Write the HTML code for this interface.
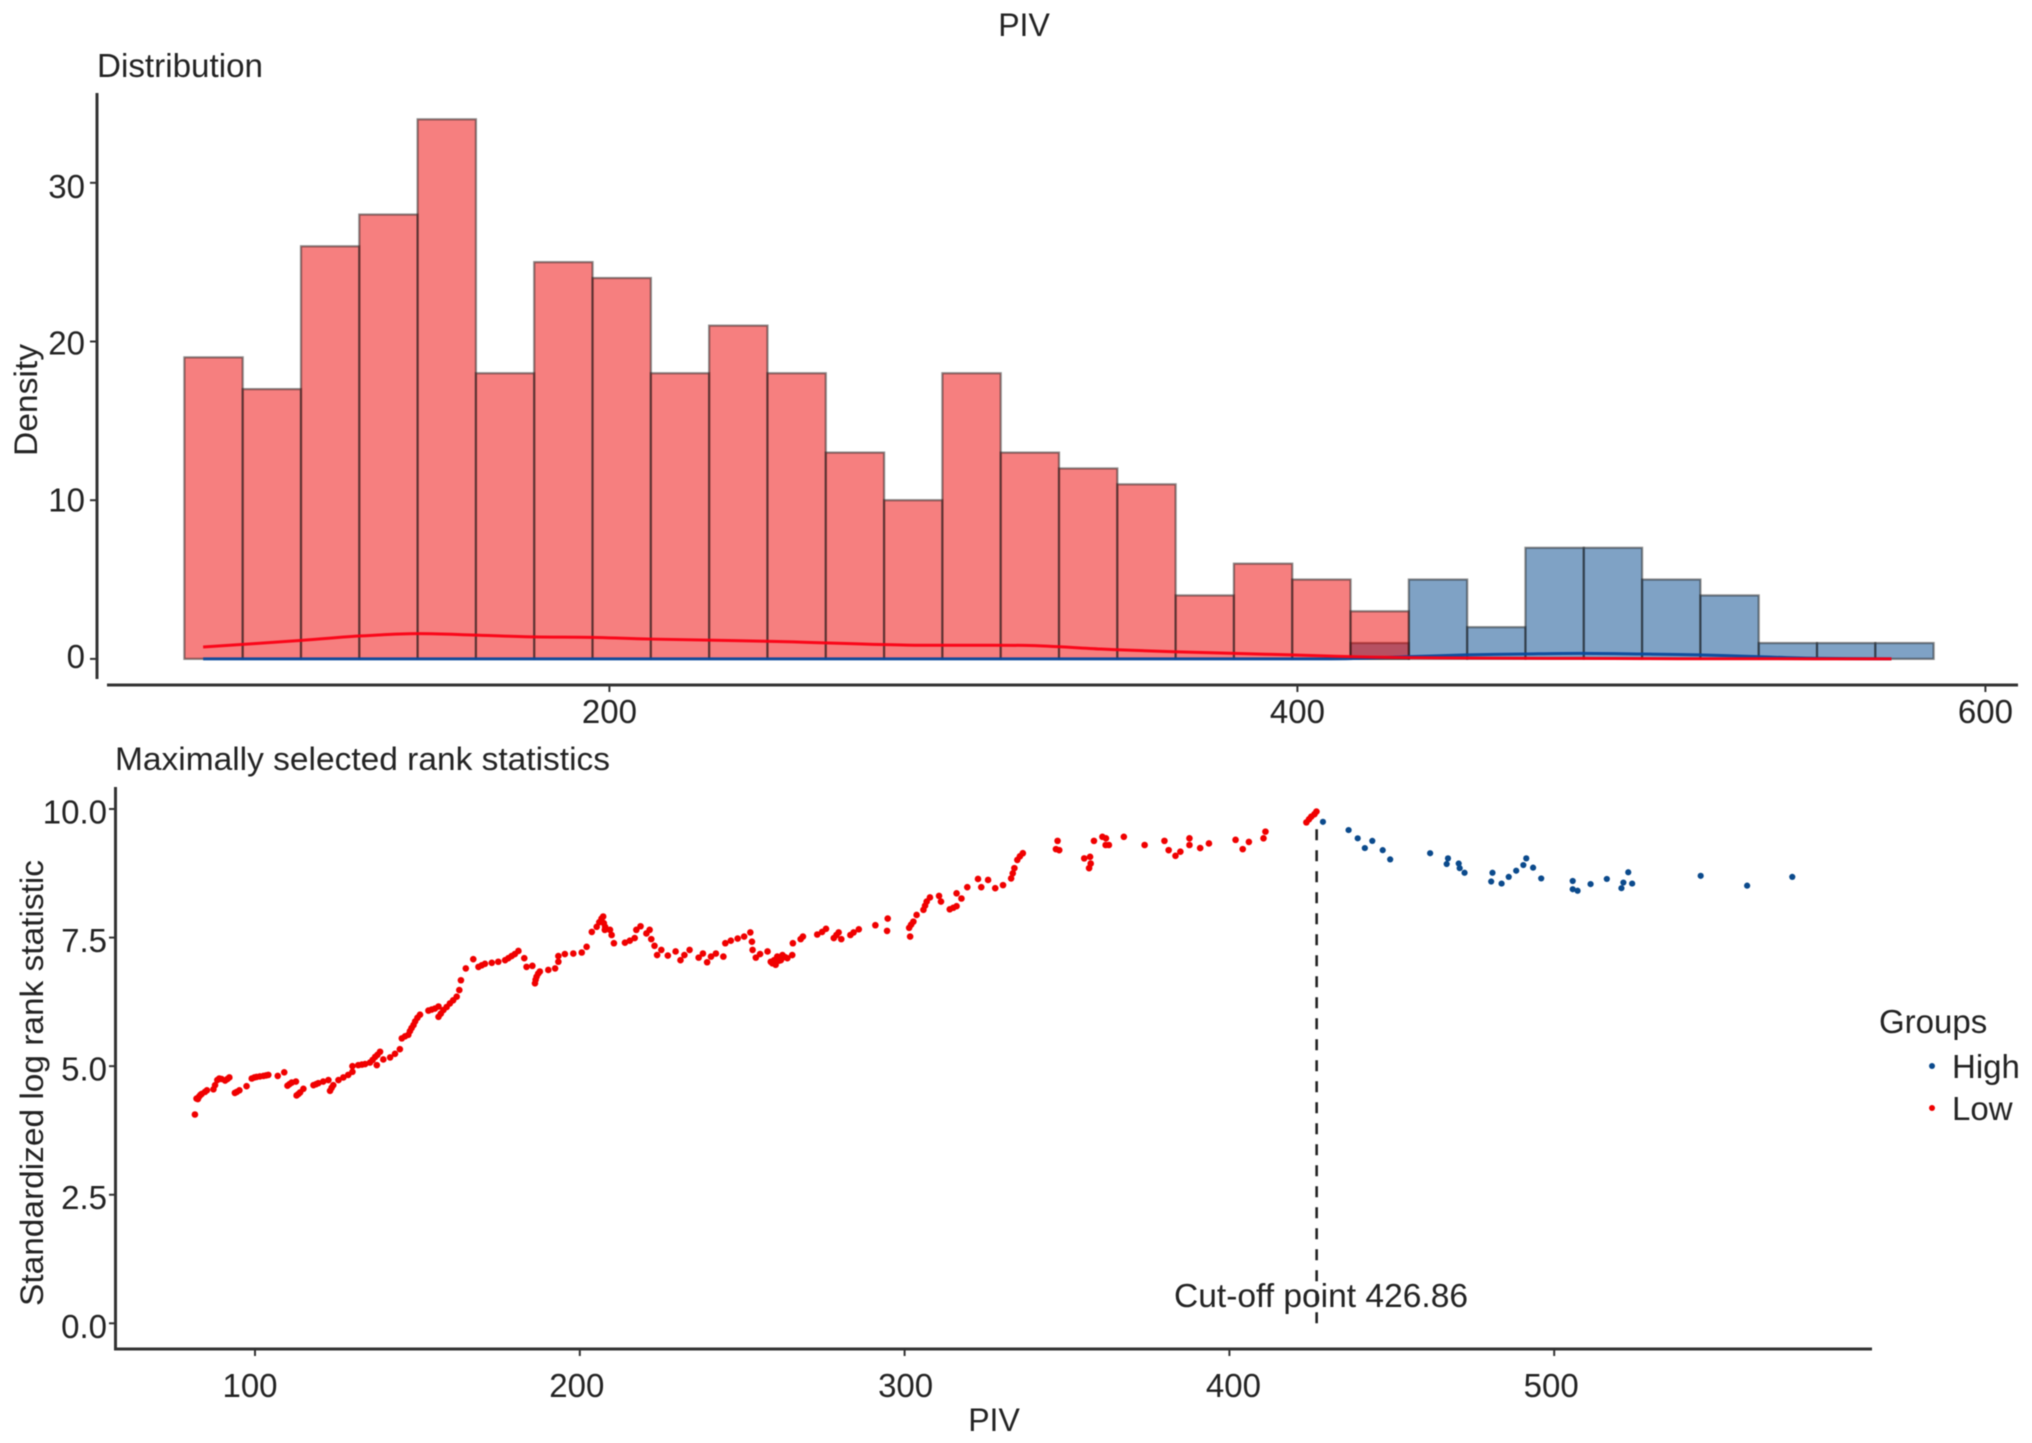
<!DOCTYPE html>
<html lang="en">
<head>
<meta charset="utf-8">
<title>PIV</title>
<style>
html,body{margin:0;padding:0;background:#fff;overflow:hidden;}
svg{display:block;filter:blur(0.6px);}
text{font-family:"Liberation Sans",Arial,sans-serif;fill:#232323;}
</style>
</head>
<body>
<svg id="chart" xmlns="http://www.w3.org/2000/svg" width="2032" height="1443" viewBox="0 0 2032 1443">
  <rect x="0" y="0" width="2032" height="1443" fill="#ffffff"/>
  <text x="1024" y="36" font-size="32" text-anchor="middle">PIV</text>
  <text x="97" y="77" font-size="33" textLength="166" lengthAdjust="spacingAndGlyphs">Distribution</text>
  <text transform="translate(37,400) rotate(-90)" font-size="32" text-anchor="middle" textLength="112" lengthAdjust="spacingAndGlyphs">Density</text>
  <g id="histogram"></g>
  <g id="density-lines"></g>
  <line x1="97" y1="93" x2="97" y2="679" stroke="#333" stroke-width="3"/>
  <line x1="107" y1="685" x2="2018" y2="685" stroke="#333" stroke-width="3"/>
  <g id="top-axes"></g>

  <text x="115" y="770" font-size="32" textLength="495" lengthAdjust="spacingAndGlyphs">Maximally selected rank statistics</text>
  <text transform="translate(43,1083) rotate(-90)" font-size="32" text-anchor="middle" textLength="446" lengthAdjust="spacingAndGlyphs">Standardized log rank statistic</text>
  <g id="scatter"></g>
  <line x1="115.5" y1="787" x2="115.5" y2="1350" stroke="#333" stroke-width="3"/>
  <line x1="114" y1="1349" x2="1872" y2="1349" stroke="#333" stroke-width="3"/>
  <g id="bottom-axes"></g>
  <text x="1174" y="1307" font-size="33" textLength="294" lengthAdjust="spacingAndGlyphs">Cut-off point 426.86</text>
  <text x="994" y="1431" font-size="32" text-anchor="middle">PIV</text>

  <text x="1879" y="1033" font-size="33">Groups</text>
  <circle cx="1932" cy="1066" r="3" fill="#0b4a8c"/>
  <text x="1952" y="1078" font-size="33">High</text>
  <circle cx="1932" cy="1108" r="3" fill="#f00000"/>
  <text x="1952" y="1120" font-size="33">Low</text>
</svg>
<script>
// Histogram data
const binStart = 76.45;
const binWidth = 16.95;
const lowCounts = [19,17,26,28,34,18,25,24,18,21,18,13,10,18,13,12,11,4,6,5,3,0,0,0,0,0,0,0,0,0];
const highCounts = [0,0,0,0,0,0,0,0,0,0,0,0,0,0,0,0,0,0,0,0,1,5,2,7,7,5,4,1,1,1];

// Density curve data
const densityPiv = [81.9,110,127.2,144,161,178,195,212,248.7,286.6,320.5,342.9,364.1,381.6,398.2,415.3,432.5,449,466,482.4,500,516.8,533.7,550,572.7];
const densityLow = [0.75,1.16,1.44,1.59,1.5,1.39,1.36,1.25,1.1,0.87,0.85,0.62,0.45,0.35,0.25,0.14,0.08,0.06,0.04,0.03,0.02,0.01,0.01,0,0];
const densityHigh = [0,0,0,0,0,0,0,0,0,0,0,0,0,0,0,0.02,0.14,0.25,0.31,0.35,0.31,0.25,0.14,0.04,0];

// Tick labels
const topYTicks = [0,10,20,30];
const topXTicks = [200,400,600];
const bottomYTicks = [0,2.5,5,7.5,10];
const bottomXTicks = [100,200,300,400,500];

// Rank statistic data
const lowPiv = [
81.5,82,82.4,82.8,83.2,83.6,84.6,85.2,
87.2,87.7,88.4,89,89.7,90.8,91.5,92.1,
93.8,94.4,95.2,97.4,
99,99.8,100.5,101.5,102.6,103.4,104.1,
107,109,
110,110.6,111.3,112.6,
112.8,113.4,113.9,114.9,
118,118.8,119.5,121,122.6,
123.1,123.6,124.1,125.7,127.2,128.7,130,
130,131.8,132.9,133.9,135.4,136.2,137,137.7,138.5,
137.5,139.5,141.6,143.1,144.6,
145.2,146.2,147.2,147.7,148.2,148.8,149.3,150,150.8,
153.4,154.4,155.4,156.5,
156.5,157.2,158,159,160,161,162.1,162.9,
163.4,164.9,167.2,
168.8,169.8,170.8,172.9,174.9,177,178,179,180,181.1,
182.9,183.6,185.4,
186.2,186.4,186.7,187.2,187.7,
190.3,192.4,193.4,193.4,195.4,198,200.6,202.1,
203.7,205.2,206,206.7,207.2,207.4,207.7,207.8,209.3,209.8,210.5,
213.9,215.4,216.9,217.4,218.7,
220.5,221.5,222,223,223.8,225.1,
227.1,229.5,231,232.2,233.8,
236.6,237.9,239.2,240.4,241.9,244.2,244.8,246.5,248.6,250.6,252.5,
253,253.2,254.2,255.5,257.8,
258.8,259.3,259.8,260.3,260.8,261.4,261.9,262.4,263.2,263.9,265.4,
265.6,268,268.7,
273.1,274.6,275.8,
278.2,279,279.7,280.5,283.3,284.3,285.9,
291,294.8,294.6,
301.7,301.4,302,302.7,303.7,305.8,306.3,306.8,307.8,
310.6,311.2,
313.9,315,316,317.5,316,319.3,
322.6,323.6,325.7,
327.9,330.3,332.8,333.3,333.8,334.7,335.5,336.4,
347.1,346.6,347.6,
355.3,357.1,356.8,357.3,
358.3,360.9,361.9,
362,362.9,367.5,373.9,380,381.3,383.4,384.9,387.7,387.7,391,393.7,
401.9,404.1,406,410.5,411.1,423.7,424.5,425.2,426.2,426.8
];
const lowStat = [
4.06,4.37,4.36,4.41,4.44,4.46,4.5,4.53,
4.55,4.63,4.73,4.76,4.75,4.72,4.75,4.78,
4.48,4.5,4.53,4.61,
4.76,4.78,4.79,4.8,4.81,4.82,4.83,
4.81,4.88,
4.62,4.65,4.68,4.7,
4.43,4.46,4.49,4.56,
4.63,4.65,4.67,4.7,4.73,
4.52,4.58,4.63,4.73,4.78,4.83,4.89,
5,5.02,5.03,5.04,5.07,5.12,5.18,5.22,5.28,
5.02,5.13,5.17,5.24,5.33,
5.54,5.58,5.61,5.68,5.74,5.8,5.87,5.94,6,
6.08,6.1,6.12,6.16,
5.96,6.02,6.09,6.15,6.22,6.28,6.35,6.48,
6.67,6.9,7.08,
6.93,6.96,6.99,7.01,7.03,7.06,7.1,7.14,7.18,7.24,
7.1,6.93,6.95,
6.61,6.68,6.74,6.8,6.84,
6.87,6.9,7.03,7.14,7.18,7.19,7.21,7.32,
7.61,7.71,7.8,7.87,7.91,7.78,7.65,7.71,7.65,7.55,7.39,
7.4,7.44,7.49,7.65,7.72,
7.58,7.65,7.47,7.34,7.16,7.26,
7.15,7.23,7.06,7.16,7.26,
7.11,7.19,7.02,7.13,7.19,7.13,7.39,7.44,7.48,7.52,7.6,
7.42,7.26,7.11,7.18,7.23,
7.03,7,7.06,6.97,7.13,7.05,7.06,7.16,7.12,7.1,7.16,
7.39,7.47,7.52,
7.56,7.61,7.67,
7.49,7.55,7.6,7.47,7.55,7.6,7.66,
7.74,7.87,7.63,
7.52,7.69,7.75,7.81,7.94,8.04,8.12,8.2,8.28,
8.31,8.2,
8.05,8.08,8.11,8.26,8.36,8.48,
8.64,8.48,8.62,
8.46,8.52,8.65,8.75,8.85,9.01,9.08,9.14,
9.38,9.22,9.2,
9.04,9.07,8.85,8.94,
9.38,9.46,9.3,
9.43,9.3,9.46,9.3,9.38,9.2,9.09,9.17,9.43,9.3,9.24,9.33,
9.4,9.22,9.36,9.43,9.56,9.74,9.8,9.85,9.9,9.95
];
const highPiv = [428.8,436.7,439.5,441.7,444,447.2,449.5,461.8,467.3,466.9,470.6,470.9,472.4,481,480.6,483.8,486,488.3,490.5,491.4,493.5,496,505.7,505.7,507.2,511.2,516.2,522.8,521.3,520.7,524,545.1,559.4,573.3];
const highStat = [9.75,9.59,9.43,9.24,9.38,9.2,9.02,9.14,9.04,8.93,8.94,8.85,8.76,8.76,8.59,8.55,8.68,8.8,8.91,9.04,8.86,8.65,8.6,8.44,8.41,8.54,8.64,8.77,8.57,8.46,8.55,8.7,8.51,8.68];
const cutoffPiv = 426.86;
const cutoffTopStat = 9.8;

// Axis functions
const xTop = v => 609.4 + (v - 200) * 3.44;
const yTop = v => 658.9 - v * 15.87;
const yTopLabel = v => 668 - v * 15.67;
const xBottom = v => 255 + (v - 100) * 3.248;
const yBottom = v => 1323.3 - v * 51.43;
const bottomLabelNudge = i => [-5, -3, 1, 4, -3][i];

const SVGNS = 'http://www.w3.org/2000/svg';
function make(tag, attrs, parent, text) {
  const node = document.createElementNS(SVGNS, tag);
  for (const k in attrs) node.setAttribute(k, attrs[k]);
  if (text !== undefined) node.textContent = text;
  parent.appendChild(node);
  return node;
}

// Histogram: blue drawn first, red over it
const hist = document.getElementById('histogram');
function drawBars(counts, fill, label) {
  counts.forEach((c, i) => {
    const x0 = xTop(binStart + i * binWidth);
    const x1 = xTop(binStart + (i + 1) * binWidth);
    const el = make('rect', {
      x: x0, y: yTop(c), width: x1 - x0, height: yTop(0) - yTop(c),
      fill: fill, 'fill-opacity': 0.5,
      stroke: '#1c1c1c', 'stroke-opacity': 0.5, 'stroke-width': 2.2
    }, hist);
    
    
  });
}
drawBars(highCounts, '#00468b', 'high');
drawBars(lowCounts, '#ed0000', 'low');

// Density lines
const densityGroup = document.getElementById('density-lines');
function drawDensity(values, color, label) {
  const pts = densityPiv.map((v, i) => [xTop(v), yTop(values[i])]);
  let d = 'M' + pts[0][0] + ' ' + pts[0][1];
  for (let i = 0; i < pts.length - 1; i++) {
    const p0 = pts[Math.max(0, i - 1)], p1 = pts[i], p2 = pts[i + 1], p3 = pts[Math.min(pts.length - 1, i + 2)];
    d += ' C' + (p1[0] + (p2[0] - p0[0]) / 6) + ' ' + (p1[1] + (p2[1] - p0[1]) / 6) + ' ' +
         (p2[0] - (p3[0] - p1[0]) / 6) + ' ' + (p2[1] - (p3[1] - p1[1]) / 6) + ' ' + p2[0] + ' ' + p2[1];
  }
  const el = make('path', { d: d, fill: 'none', stroke: color, 'stroke-width': 3, 'stroke-opacity': 0.95 }, densityGroup);
  
  
}
drawDensity(densityHigh, '#0b4a9c', 'high');
drawDensity(densityLow, '#fa0014', 'low');

// Top axes ticks and labels
const topAxes = document.getElementById('top-axes');
topYTicks.forEach(v => {
  const t = make('line', { x1: 90, x2: 97, y1: yTop(v), y2: yTop(v), stroke: '#333', 'stroke-width': 2 }, topAxes);
  
  
  const l = make('text', { x: 85, y: yTopLabel(v), 'font-size': 33, 'text-anchor': 'end' }, topAxes, String(v));
  
  
});
topXTicks.forEach(v => {
  const t = make('line', { x1: xTop(v), x2: xTop(v), y1: 685, y2: 692, stroke: '#333', 'stroke-width': 2 }, topAxes);
  
  
  const l = make('text', { x: xTop(v), y: 723, 'font-size': 33, 'text-anchor': 'middle' }, topAxes, String(v));
  
  
});

// Scatter
const scatter = document.getElementById('scatter');
const cutoffLine = make('line', {
  x1: xBottom(cutoffPiv), x2: xBottom(cutoffPiv), y1: yBottom(0), y2: yBottom(cutoffTopStat),
  stroke: '#222', 'stroke-width': 2.6, 'stroke-dasharray': '11 10'
}, scatter);


lowPiv.forEach((v, i) => {
  const c = make('circle', { cx: xBottom(v), cy: yBottom(lowStat[i]), r: 3.3, fill: '#f00000' }, scatter);
  
  
});
highPiv.forEach((v, i) => {
  const c = make('circle', { cx: xBottom(v), cy: yBottom(highStat[i]), r: 3.1, fill: '#0b4a8c' }, scatter);
  
  
});

// Bottom axes ticks and labels
const bottomAxes = document.getElementById('bottom-axes');
bottomYTicks.forEach(v => {
  const t = make('line', { x1: 109, x2: 115, y1: yBottom(v), y2: yBottom(v), stroke: '#333', 'stroke-width': 2 }, bottomAxes);
  
  
  const l = make('text', { x: 107, y: yBottom(v) + 14.5, 'font-size': 33, 'text-anchor': 'end' }, bottomAxes, v.toFixed(1));
  
  
});
bottomXTicks.forEach((v, i) => {
  const t = make('line', { x1: xBottom(v), x2: xBottom(v), y1: 1349, y2: 1356, stroke: '#333', 'stroke-width': 2 }, bottomAxes);
  
  
  const l = make('text', { x: xBottom(v) + bottomLabelNudge(i), y: 1397, 'font-size': 33, 'text-anchor': 'middle' }, bottomAxes, String(v));
  
  
});
</script>
</body>
</html>
